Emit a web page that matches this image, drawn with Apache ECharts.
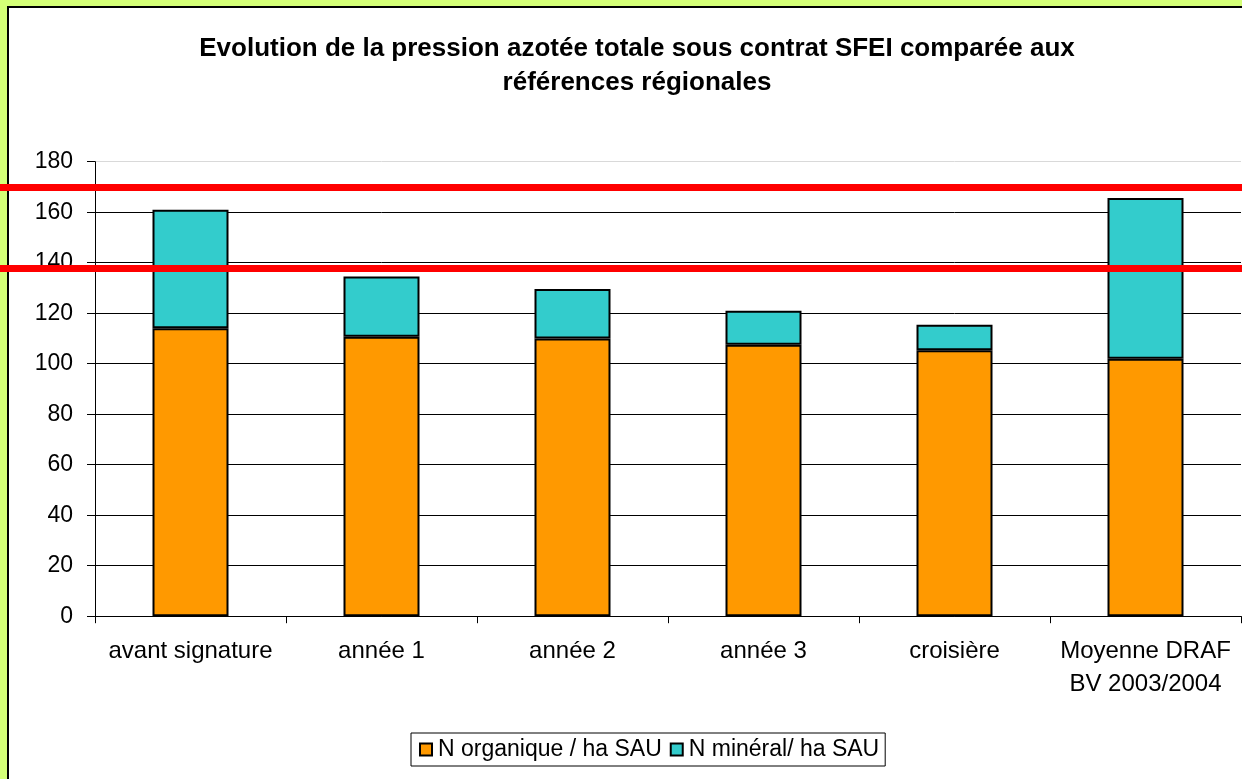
<!DOCTYPE html>
<html>
<head>
<meta charset="utf-8">
<script src="https://cdn.jsdelivr.net/npm/echarts@6/dist/echarts.min.js"></script>
<style>
  html, body { margin: 0; padding: 0; }
  body { width: 1242px; height: 779px; background: #d4ff77; position: relative; overflow: hidden; }
  .frame {
    position: absolute; left: 7px; top: 6px; right: 0; bottom: 0;
    background: #fff; border-left: 2px solid #000; border-top: 2px solid #000;
  }
  #chart { position: absolute; left: 0; top: 0; width: 1242px; height: 779px; }
</style>
</head>
<body>
<div class="frame"></div>
<div id="chart"></div>
<script>
const categories = ["avant signature", "année 1", "année 2", "année 3", "croisière", "Moyenne DRAF\nBV 2003/2004"];
const organique = [114, 110.7, 110, 107.5, 105.3, 102];
const mineral = [47, 23.8, 19.6, 13.5, 10.1, 63.6];
const refLines = [170, 138];
const yTicks = { min: 0, max: 180, interval: 20 };

const font = "'Liberation Sans', Arial, sans-serif";
const chart = echarts.init(document.getElementById("chart"));

// split lines: black except the top one (plot border, grey)
const gridColors = [];
for (let v = yTicks.min; v <= yTicks.max; v += yTicks.interval) {
  gridColors.push(v === yTicks.max ? "#d9d9d9" : "#000");
}

chart.setOption({
  backgroundColor: "transparent",
  animation: false,
  title: {
    text: "Evolution de la pression azotée totale sous contrat SFEI comparée aux\nréférences régionales",
    left: 632,
    top: 27,
    textAlign: "center",
    textStyle: { fontFamily: font, fontSize: 26, fontWeight: "bold", lineHeight: 34, color: "#000" }
  },
  legend: {
    left: 411,
    top: 733,
    data: ["N organique / ha SAU", "N minéral/ ha SAU"],
    icon: "rect",
    itemWidth: 12,
    itemHeight: 12,
    itemGap: 8,
    padding: [5, 6, 5, 8],
    borderColor: "#000",
    borderWidth: 1,
    backgroundColor: "#fff",
    textStyle: { fontFamily: font, fontSize: 23, color: "#000", padding: [0, 0, 0, 1] }
  },
  grid: [
    { left: 95, right: 1, top: 161.7, bottom: 162.8 },
    { left: 0, right: 0, top: 161.7, bottom: 162.8 }
  ],
  xAxis: [
    {
      type: "category",
      gridIndex: 0,
      data: categories,
      axisLine: { lineStyle: { color: "#000", width: 1 } },
      axisTick: { show: true, interval: 0, length: 7, lineStyle: { color: "#000" } },
      axisLabel: { interval: 0, fontFamily: font, fontSize: 24, color: "#000", lineHeight: 33, margin: 19 }
    },
    { type: "value", gridIndex: 1, min: 0, max: 1, show: false }
  ],
  yAxis: [
    {
      type: "value",
      gridIndex: 0,
      min: yTicks.min,
      max: yTicks.max,
      interval: yTicks.interval,
      axisLine: { show: true, lineStyle: { color: "#000", width: 1 } },
      axisTick: { show: true, length: 8, lineStyle: { color: "#000" } },
      axisLabel: { fontFamily: font, fontSize: 23, color: "#000", margin: 22 },
      splitLine: { show: true, lineStyle: { color: gridColors, width: 1 } }
    },
    { type: "value", gridIndex: 1, min: yTicks.min, max: yTicks.max, show: false }
  ],
  series: [
    {
      name: "N organique / ha SAU",
      type: "bar",
      stack: "n",
      barWidth: 76,
      data: organique,
      itemStyle: { color: "#ff9900", borderColor: "#000", borderWidth: 2 }
    },
    {
      name: "N minéral/ ha SAU",
      type: "bar",
      stack: "n",
      barWidth: 76,
      data: mineral,
      itemStyle: { color: "#33cccc", borderColor: "#000", borderWidth: 2 }
    },
    {
      name: "ref",
      type: "line",
      xAxisIndex: 1,
      yAxisIndex: 1,
      data: [],
      z: 10,
      silent: true,
      markLine: {
        silent: true,
        symbol: "none",
        label: { show: false },
        lineStyle: { color: "#ff0000", width: 7, type: "solid" },
        data: refLines.map((v) => ({ yAxis: v }))
      }
    }
  ]
});
</script>
</body>
</html>
